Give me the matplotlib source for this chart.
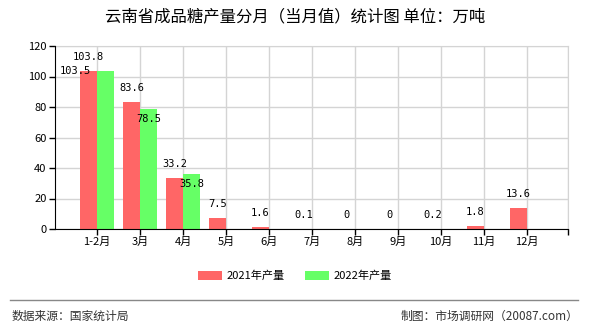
import numpy as np
from matplotlib import pyplot as plt

plt.rcParams['font.family'] = ['Noto Sans CJK SC', 'DejaVu Sans']

months = ["1-2月", "3月", "4月", "5月", "6月", "7月", "8月", "9月",
          "10月", "11月", "12月"]
prod_2021 = [103.5, 83.6, 33.2, 7.5, 1.6, 0.1, 0, 0, 0.2, 1.8, 13.6]
prod_2022 = [103.8, 78.5, 35.8]
yticks = [0, 20, 40, 60, 80, 100, 120]

RED = "#ff6666"
GREEN = "#66ff66"

fig = plt.figure(figsize=(5.9, 3.3), dpi=100)
ax = fig.add_axes([55 / 590, 1 - 229 / 330, 513 / 590, 183 / 330])

x = np.arange(len(months))
w = 0.4
ax.bar(x - w / 2, prod_2021, w, color=RED, label="2021年产量", zorder=3)
ax.bar(x[:len(prod_2022)] + w / 2, prod_2022, w, color=GREEN,
       label="2022年产量", zorder=3)

lab_font = dict(fontsize=7.5, family=['DejaVu Sans Mono'], ha='center',
                va='center', zorder=4)
for i, v in enumerate(prod_2021):
    if i == 0:
        # the two first labels are shuffled to avoid overlap
        ax.annotate(f"{v:g}", (i - 0.5, v), xytext=(0, 0),
                    textcoords='offset points', **lab_font)
    else:
        ax.annotate(f"{v:g}", (i - w / 2, v), xytext=(0, 10),
                    textcoords='offset points', **lab_font)
for i, v in enumerate(prod_2022):
    if i == 0:
        ax.annotate(f"{v:g}", (i - w / 2, v), xytext=(0, 10),
                    textcoords='offset points', **lab_font)
    else:
        ax.annotate(f"{v:g}", (i + w / 2, v), xytext=(0, -7),
                    textcoords='offset points', **lab_font)

ax.set_xlim(-0.98, 10.95)
ax.set_ylim(0, 120)
ax.set_xticks(list(x) + [10.95])
ax.set_xticklabels(months + [""], fontsize=8)
ax.set_yticks(yticks)
ax.set_yticklabels([str(t) for t in yticks], fontsize=8)
ax.tick_params(length=4, color='black', width=1, pad=2)

ax.grid(True, color='#d4d4d4', linewidth=1, zorder=0)
for s in ['top', 'right']:
    ax.spines[s].set_color('#d4d4d4')
for s in ['left', 'bottom']:
    ax.spines[s].set_color('black')
    ax.spines[s].set_zorder(5)

fig.text(0.5, 1 - 17 / 330, "云南省成品糖产量分月（当月值）统计图 单位：万吨",
         ha='center', va='center', fontsize=11.8)

fig.legend(loc='center', bbox_to_anchor=(0.5, 1 - 276 / 330), ncol=2,
           frameon=False, fontsize=8, handlelength=2.2,
           handleheight=0.8, columnspacing=1.8, handletextpad=0.4)

fig.add_artist(plt.Line2D([10 / 590, 578 / 590], [1 - 300 / 330] * 2,
                          color='#888888', linewidth=1))
fig.text(12 / 590, 1 - 316 / 330, "数据来源：国家统计局", ha='left',
         va='center', fontsize=8.5, color='#333333')
fig.text(578 / 590, 1 - 316 / 330, "制图：市场调研网（20087.com）",
         ha='right', va='center', fontsize=8.5, color='#333333')

fig.savefig("out.png", dpi=100)
